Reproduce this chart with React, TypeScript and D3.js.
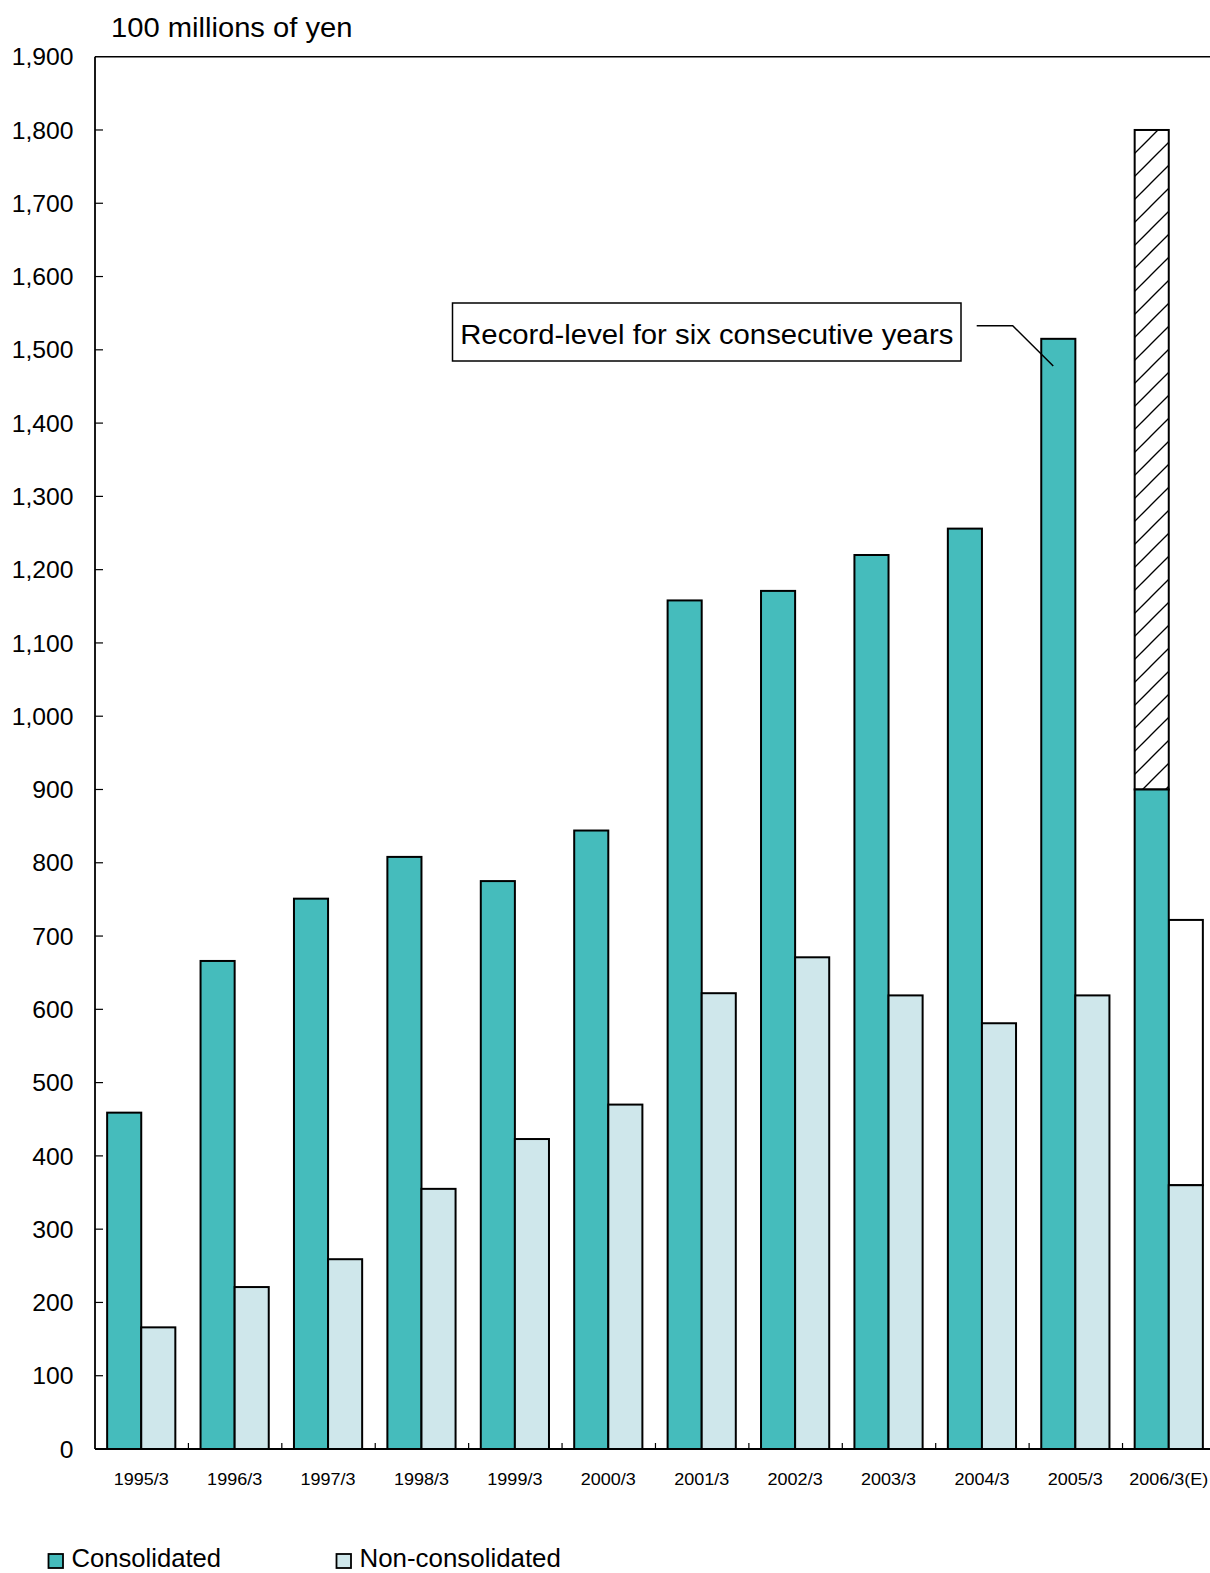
import React from "react";
import * as d3 from "d3";

const categories = ["1995/3","1996/3","1997/3","1998/3","1999/3","2000/3","2001/3","2002/3","2003/3","2004/3","2005/3","2006/3(E)"];
const consolidated = [459, 666, 751, 808, 775, 844, 1158, 1171, 1220, 1256, 1515, 900];
const nonConsolidated = [166, 221, 259, 355, 423, 470, 622, 671, 619, 581, 619, 360];
const consolidatedEstimate = [null, null, null, null, null, null, null, null, null, null, null, 1800];
const nonConsolidatedEstimate = [null, null, null, null, null, null, null, null, null, null, null, 722];
const yTicks = [0,100,200,300,400,500,600,700,800,900,1000,1100,1200,1300,1400,1500,1600,1700,1800,1900];
const series = ["Consolidated", "Non-consolidated"];
const annotationText = "Record-level for six consecutive years";
const yTitle = "100 millions of yen";

const TEAL = "#45BCBC";
const LIGHT = "#CFE7EB";
const FONT = "Liberation Sans, Arial, sans-serif";

function SText({ x, y, sx = 1, anchor = "start", size, children, dy }: any) {
  return (
    <text transform={`translate(${x},${y}) scale(${sx},1)`} textAnchor={anchor} fontSize={size} dy={dy} fill="#000">
      {children}
    </text>
  );
}

export default function App() {
  const W = 1210, H = 1573;
  const left = 95, right = 1215, top = 56.7, bottom = 1449;
  const x = d3.scaleBand<string>().domain(categories).range([left, right]).paddingInner(0.27).paddingOuter(0.13);
  const xs = d3.scaleBand<string>().domain(series).range([0, x.bandwidth()]);
  const y = d3.scaleLinear().domain([0, 1900]).range([bottom, top]);
  const fmt = d3.format(",");
  const step = x.step();

  const idx2005 = 10;
  const bar2005x = (x(categories[idx2005]) as number) + (xs("Consolidated") as number);

  return (
    <svg width={W} height={H} style={{ position: "absolute", left: 0, top: 0, background: "#fff" }} fontFamily={FONT}>
      <defs>
        <pattern id="hatch" patternUnits="userSpaceOnUse" width={23} height={23}>
          <line x1={-2} y1={25} x2={25} y2={-2} stroke="#000" strokeWidth={1.3} />
          <line x1={-5} y1={5} x2={5} y2={-5} stroke="#000" strokeWidth={1.3} />
          <line x1={18} y1={28} x2={28} y2={18} stroke="#000" strokeWidth={1.3} />
        </pattern>
      </defs>
      <rect x={0} y={0} width={W} height={H} fill="#fff" />
      {/* title */}
      <SText x={111} y={36.7} size={27} sx={1.08}>{yTitle}</SText>

      {/* bars */}
      {categories.map((c, i) => {
        const bx = x(c) as number;
        const cx = bx + (xs("Consolidated") as number);
        const nx = bx + (xs("Non-consolidated") as number);
        const bw = xs.bandwidth();
        const ce = consolidatedEstimate[i];
        const ne = nonConsolidatedEstimate[i];
        return (
          <g key={c}>
            {ce != null && (
              <rect x={cx} y={y(ce)} width={bw} height={y(consolidated[i]) - y(ce)} fill="url(#hatch)" stroke="#000" strokeWidth={2} />
            )}
            {ne != null && (
              <rect x={nx} y={y(ne)} width={bw} height={y(nonConsolidated[i]) - y(ne)} fill="#fff" stroke="#000" strokeWidth={2} />
            )}
            <rect x={cx} y={y(consolidated[i])} width={bw} height={bottom - y(consolidated[i])} fill={TEAL} stroke="#000" strokeWidth={2} />
            <rect x={nx} y={y(nonConsolidated[i])} width={bw} height={bottom - y(nonConsolidated[i])} fill={LIGHT} stroke="#000" strokeWidth={2} />
          </g>
        );
      })}

      {/* axes */}
      <line x1={left} y1={top} x2={W} y2={top} stroke="#000" strokeWidth={1.5} />
      <line x1={left} y1={top} x2={left} y2={bottom} stroke="#000" strokeWidth={1.8} />
      <line x1={left} y1={bottom} x2={W} y2={bottom} stroke="#000" strokeWidth={1.8} />
      {yTicks.map((t) => (
        <g key={t}>
          {t > 0 && t < 1900 && <line x1={left} y1={y(t)} x2={left + 8} y2={y(t)} stroke="#000" strokeWidth={1.2} />}
          <SText x={73.5} y={y(t)} dy="0.36em" anchor="end" size={24} sx={1.03}>{fmt(t)}</SText>
        </g>
      ))}
      {categories.map((c, i) => {
        const tx = (x(c) as number) - x.paddingOuter() * step + step;
        return (
          <g key={c}>
            {i < categories.length - 1 && <line x1={tx} y1={bottom} x2={tx} y2={bottom - 6} stroke="#000" strokeWidth={1.2} />}
            <SText x={(x(c) as number) + x.bandwidth() / 2} y={1485} anchor="middle" size={17} sx={1.06}>{c}</SText>
          </g>
        );
      })}

      {/* annotation */}
      <rect x={452.5} y={303} width={508.5} height={58} fill="#fff" stroke="#000" strokeWidth={1.5} />
      <SText x={706.75} y={343.5} anchor="middle" size={27} sx={1.085}>{annotationText}</SText>
      <polyline points={`976.7,325.7 1012.7,325.7 ${bar2005x + 12},366`} fill="none" stroke="#000" strokeWidth={1.5} />

      {/* legend */}
      <rect x={48.5} y={1554} width={14.5} height={14} fill={TEAL} stroke="#000" strokeWidth={1.8} />
      <SText x={71.5} y={1567} size={25.5} sx={1.005}>{series[0]}</SText>
      <rect x={336.5} y={1554} width={14.5} height={14} fill={LIGHT} stroke="#000" strokeWidth={1.8} />
      <SText x={359.5} y={1567} size={25.5} sx={1.015}>{series[1]}</SText>
    </svg>
  );
}
